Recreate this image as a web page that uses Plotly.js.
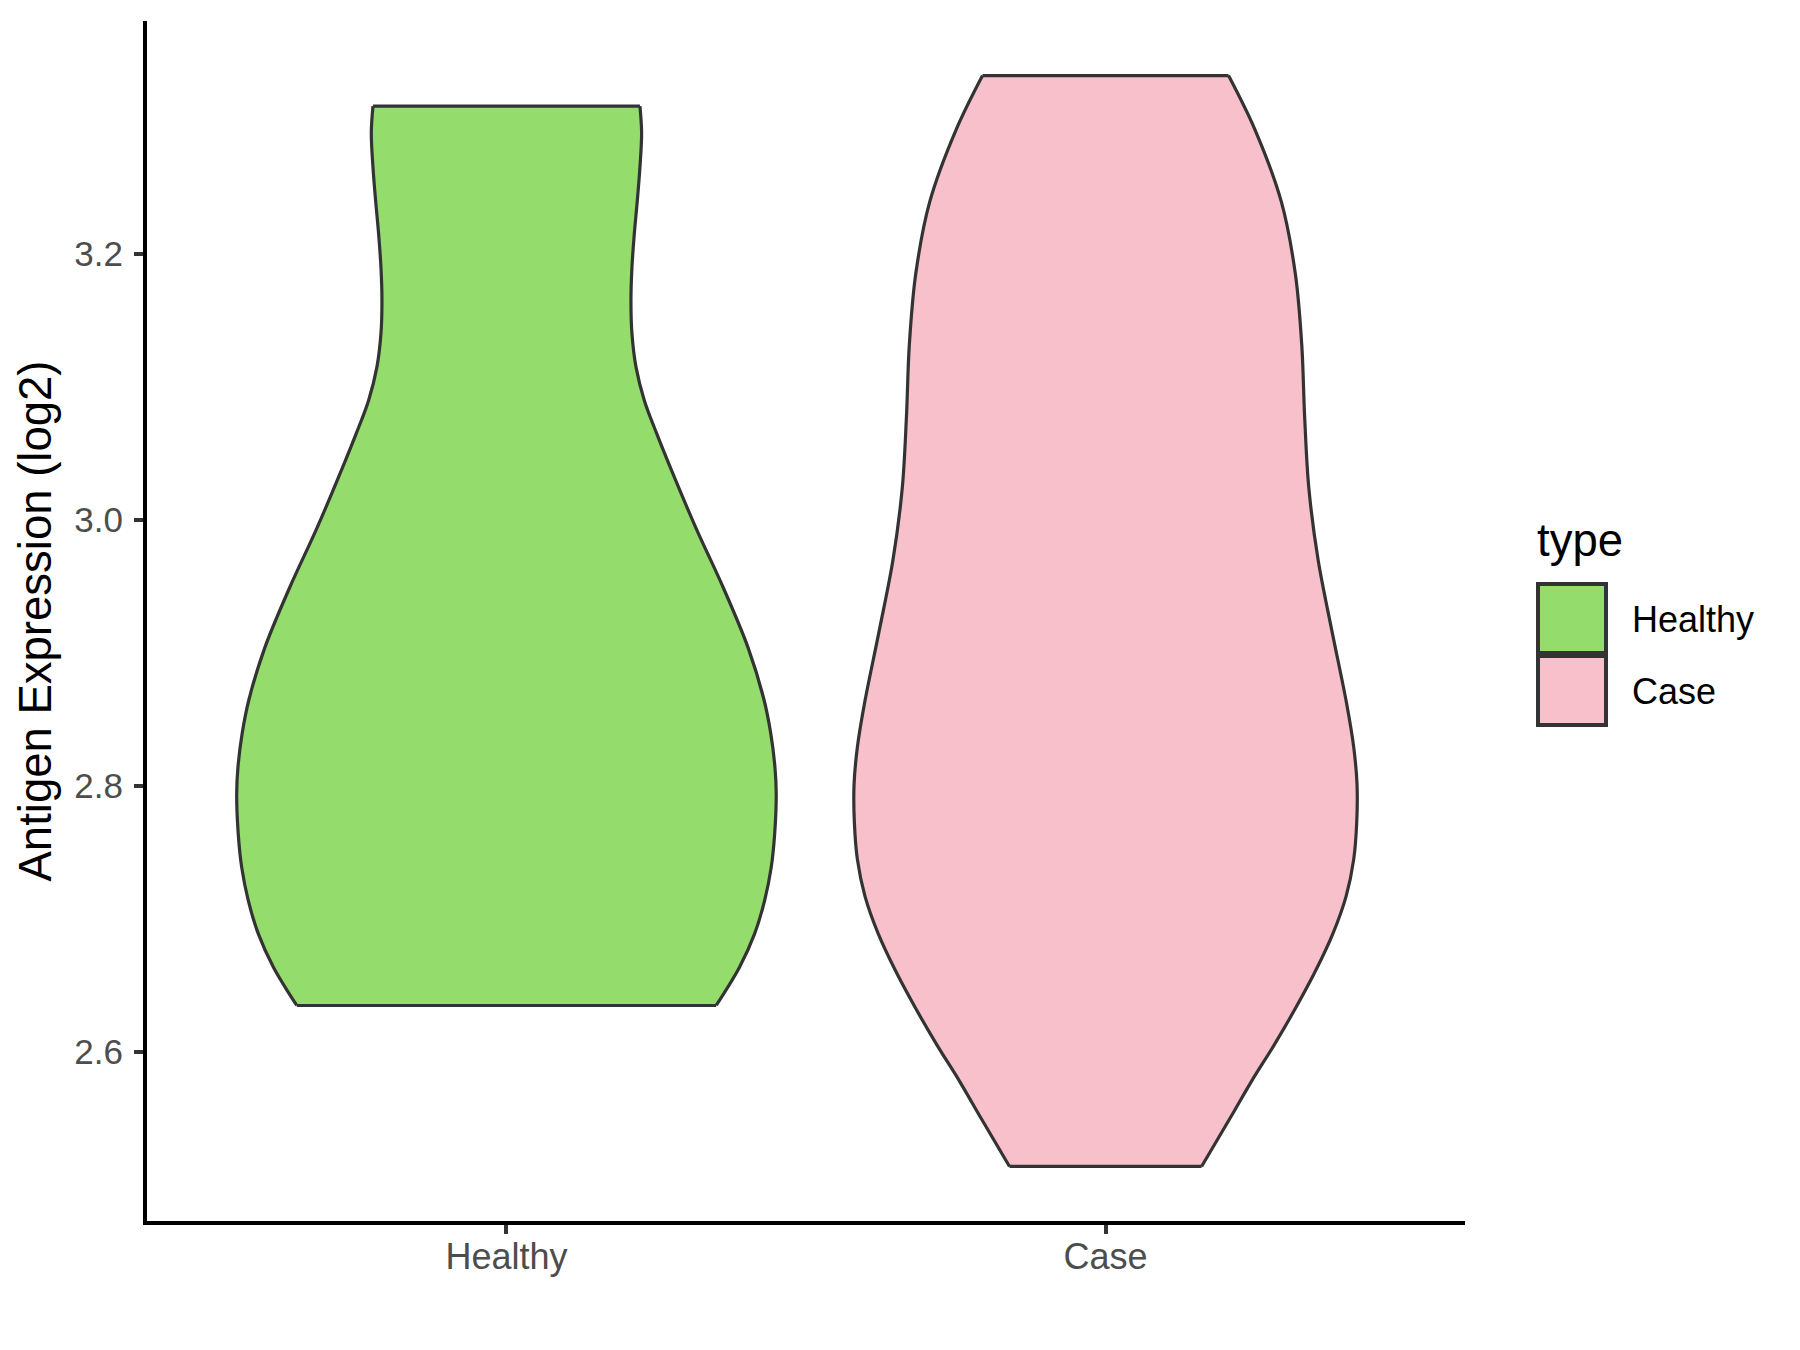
<!DOCTYPE html>
<html>
<head>
<meta charset="utf-8">
<script src="https://cdn.plot.ly/plotly-3.0.1.min.js"></script>
<style>html,body{margin:0;padding:0;background:#fff;}#chart{width:1800px;height:1350px;}</style>
</head>
<body>
<div id="chart"></div>
<script>
// Categories and colours
var categories = ["Healthy", "Case"];
var categoryPositions = [1, 2];
var fillColors = ["#94DC6B", "#F7C0CB"];
var outlineColor = "#333333";

// Violin profiles: expression level (log2) and half-width (in category units)
var healthyY = [2.635, 2.664, 2.689, 2.714, 2.739, 2.764, 2.794, 2.814, 2.840, 2.865, 2.904, 2.949, 2.994, 3.040, 3.065, 3.090, 3.115, 3.140, 3.165, 3.190, 3.215, 3.240, 3.265, 3.291, 3.311];
var healthyHalfWidth = [0.3500, 0.3892, 0.4143, 0.4310, 0.4420, 0.4477, 0.4503, 0.4482, 0.4410, 0.4298, 0.4033, 0.3620, 0.3162, 0.2730, 0.2507, 0.2300, 0.2162, 0.2095, 0.2078, 0.2095, 0.2134, 0.2184, 0.2228, 0.2256, 0.2228];

var caseY = [2.514, 2.550, 2.578, 2.606, 2.634, 2.662, 2.689, 2.717, 2.745, 2.773, 2.801, 2.829, 2.862, 2.916, 2.970, 3.024, 3.078, 3.131, 3.185, 3.239, 3.293, 3.334];
var caseHalfWidth = [0.1603, 0.2075, 0.2436, 0.2823, 0.3184, 0.3516, 0.3795, 0.4015, 0.4143, 0.4193, 0.4198, 0.4143, 0.4024, 0.3781, 0.3548, 0.3393, 0.3323, 0.3276, 0.3168, 0.2935, 0.2497, 0.2053];

// Axis ticks
var yTickVals = [2.6, 2.8, 3.0, 3.2];
var yTickText = ["2.6", "2.8", "3.0", "3.2"];
var yRange = [2.473, 3.375];
var xRange = [0.4, 2.6];

var legendTitle = "type";
var yAxisTitle = "Antigen Expression (log2)";

var lineW = 3.2;

function violinTraces(center, ys, hw, color, name) {
  var xl = [], xr = [];
  for (var i = 0; i < ys.length; i++) { xl.push(center - hw[i]); xr.push(center + hw[i]); }
  var n = ys.length - 1;
  var base = {type: "scatter", mode: "lines", y: ys, name: name, hoverinfo: "name+y", showlegend: false};
  var fillL = Object.assign({}, base, {x: xl, line: {width: 0, shape: "spline", smoothing: 1}});
  var fillR = Object.assign({}, base, {x: xr, fill: "tonextx", fillcolor: color,
    line: {width: 0, shape: "spline", smoothing: 1}});
  var edgeL = Object.assign({}, base, {x: xl, line: {color: outlineColor, width: lineW, shape: "spline", smoothing: 1}});
  var edgeR = Object.assign({}, base, {x: xr, line: {color: outlineColor, width: lineW, shape: "spline", smoothing: 1}});
  var caps = {type: "scatter", mode: "lines", name: name, hoverinfo: "skip", showlegend: false,
    x: [xl[0], xr[0], null, xl[n], xr[n]], y: [ys[0], ys[0], null, ys[n], ys[n]],
    line: {color: outlineColor, width: lineW, shape: "linear"}, connectgaps: false};
  return [fillL, fillR, edgeL, edgeR, caps];
}

var traces = []
  .concat(violinTraces(categoryPositions[0], healthyY, healthyHalfWidth, fillColors[0], categories[0]))
  .concat(violinTraces(categoryPositions[1], caseY, caseHalfWidth, fillColors[1], categories[1]));

var fontFamily = "Liberation Sans, Arial, Helvetica, sans-serif";

// plot-area geometry (pixels) used to place the hand-built legend
var W = 1800, H = 1350, ML = 147, MR = 335, MT = 21, MB = 129;
var PW = W - ML - MR, PH = H - MT - MB;
function px(xp) { return (xp - ML) / PW; }
function py(yp) { return (H - MB - yp) / PH; }

var shapes = [], annotations = [];
annotations.push({xref: "paper", yref: "paper", x: px(1535), y: py(540), xanchor: "left", yanchor: "middle",
  text: legendTitle, showarrow: false, font: {family: fontFamily, size: 45.5, color: "#000000"}});
for (var k = 0; k < categories.length; k++) {
  var keyTop = 584 + k * 72;
  shapes.push({type: "rect", xref: "paper", yref: "paper",
    x0: px(1538), x1: px(1606), y0: py(keyTop + 69), y1: py(keyTop),
    fillcolor: fillColors[k], line: {color: outlineColor, width: 4}});
  annotations.push({xref: "paper", yref: "paper", x: px(1630), y: py(keyTop + 35), xanchor: "left", yanchor: "middle",
    text: categories[k], showarrow: false, font: {family: fontFamily, size: 36, color: "#000000"}});
}

var layout = {
  width: W, height: H,
  paper_bgcolor: "#ffffff", plot_bgcolor: "#ffffff",
  margin: {l: ML, r: MR, t: MT, b: MB, pad: 0},
  showlegend: false,
  font: {family: fontFamily},
  xaxis: {
    range: xRange, tickvals: categoryPositions, ticktext: categories,
    showline: true, linecolor: "#000000", linewidth: 4,
    ticks: "outside", ticklen: 9, tickwidth: 4, tickcolor: "#333333",
    ticklabelstandoff: -8,
    tickfont: {family: fontFamily, size: 36, color: "#4D4D4D"},
    showgrid: false, zeroline: false
  },
  yaxis: {
    range: yRange, tickvals: yTickVals, ticktext: yTickText,
    showline: true, linecolor: "#000000", linewidth: 4,
    ticks: "outside", ticklen: 9, tickwidth: 4, tickcolor: "#333333",
    ticklabelstandoff: 4,
    tickfont: {family: fontFamily, size: 35, color: "#4D4D4D"},
    title: {text: yAxisTitle, font: {family: fontFamily, size: 45.5, color: "#000000"}, standoff: 9},
    showgrid: false, zeroline: false
  },
  shapes: shapes,
  annotations: annotations
};

Plotly.newPlot("chart", traces, layout, {displayModeBar: false});
</script>
</body>
</html>
